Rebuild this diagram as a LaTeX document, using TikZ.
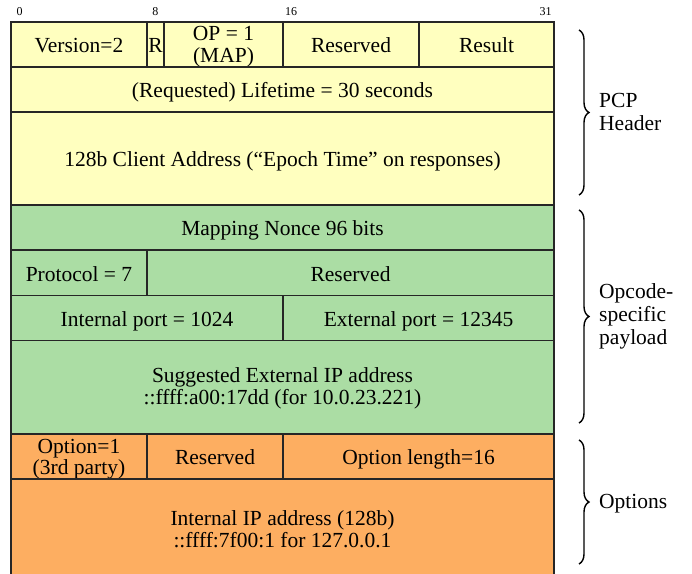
\documentclass[tikz,border=0pt]{standalone}
\usepackage{fontspec}
\setmainfont{Liberation Serif}
\usetikzlibrary{decorations.pathreplacing}
\definecolor{hdr}{HTML}{FFFFBF}
\definecolor{pay}{HTML}{ABDDA4}
\definecolor{opt}{HTML}{FDAE61}
\begin{document}
\begin{tikzpicture}[x=1pt,y=-1pt,
  mcell/.style={draw=black!85, line width=1.1pt, rectangle, inner sep=0pt, outer sep=0pt,
    anchor=north west, align=center, font=\fontsize{21.5}{22}\selectfont},
  cell/.style={mcell, text height=18pt, text depth=1.4pt},
  hcell/.style={cell, fill=hdr},
  pcell/.style={cell, fill=pay},
  ocell/.style={cell, fill=opt},
  hmcell/.style={mcell, fill=hdr},
  pmcell/.style={mcell, fill=pay},
  omcell/.style={mcell, fill=opt},
  mtxt/.style={inner sep=0pt, align=center, font=\fontsize{21.5}{22}\selectfont},
  bitnum/.style={anchor=base, inner sep=0pt, font=\fontsize{12}{13}\selectfont},
  brc/.style={decorate, decoration={brace, amplitude=10pt}, line width=1.4pt},
  lbl/.style={anchor=west, align=left, inner sep=0pt, font=\fontsize{21.5}{22.5}\selectfont}]
\useasboundingbox (0,0) rectangle (692,573);
% bit numbers
\node[bitnum] (b0) at (19.5,15) {0};
\node[bitnum] (b8) at (155.3,15) {8};
\node[bitnum] (b16) at (291,15) {16};
\node[bitnum] (b31) at (545.5,15) {31};
% header
\node[hcell, minimum width=136pt, minimum height=45pt] (ver) at (11,22) {Version=2};
\node[hcell, minimum width=17pt, minimum height=45pt] (r) at (147,22) {R};
\node[hmcell, minimum width=119pt, minimum height=45pt] (op) at (164,22) {};
\node[mtxt, yshift=-2pt] (optxt) at (op.center) {OP = 1\\(MAP)};
\node[hcell, minimum width=136pt, minimum height=45pt] (res1) at (283,22) {Reserved};
\node[hcell, minimum width=135pt, minimum height=45pt] (result) at (419,22) {Result};
\node[hcell, minimum width=543pt, minimum height=45pt] (life) at (11,67) {(Requested) Lifetime = 30 seconds};
\node[hcell, minimum width=543pt, minimum height=93pt] (client) at (11,112) {128b Client Address (“Epoch Time” on responses)};
% payload
\node[pcell, minimum width=543pt, minimum height=45pt] (nonce) at (11,205) {Mapping Nonce 96 bits};
\node[pcell, minimum width=136pt, minimum height=45.5pt] (proto) at (11,250) {Protocol = 7};
\node[pcell, minimum width=407pt, minimum height=45.5pt] (res2) at (147,250) {Reserved};
\node[pcell, minimum width=272pt, minimum height=45pt] (intport) at (11,295.5) {Internal port = 1024};
\node[pcell, minimum width=271pt, minimum height=45pt] (extport) at (283,295.5) {External port = 12345};
\node[pmcell, minimum width=543pt, minimum height=93.5pt] (sugg) at (11,340.5) {};
\node[mtxt, yshift=-1pt] (suggtxt) at (sugg.center) {Suggested External IP address\\::ffff:a00:17dd (for 10.0.23.221)};
% options
\node[omcell, minimum width=136pt, minimum height=45pt] (optn) at (11,434) {};
\node[mtxt, yshift=-3pt, font=\fontsize{21.5}{21}\selectfont] (optntxt) at (optn.center) {Option=1\\(3rd party)};
\node[ocell, minimum width=136pt, minimum height=45pt] (res3) at (147,434) {Reserved};
\node[ocell, minimum width=271pt, minimum height=45pt] (optlen) at (283,434) {Option length=16};
\node[omcell, minimum width=543pt, minimum height=100pt] (intip) at (11,479) {};
\node[mtxt] (intiptxt) at (intip.center) {Internal IP address (128b)\\::ffff:7f00:1 for 127.0.0.1};
% braces
\coordinate (h1) at (579,30); \coordinate (h2) at (579,195);
\coordinate (p1) at (579,210); \coordinate (p2) at (579,423);
\coordinate (o1) at (579,440); \coordinate (o2) at (579,564);
\draw[brc] (h1) -- (h2);
\draw[brc] (p1) -- (p2);
\draw[brc] (o1) -- (o2);
\node[lbl] (lh) at (599,112) {PCP\\Header};
\node[lbl, font=\fontsize{21.5}{23}\selectfont] (lp) at (599,316) {Opcode-\\specific\\payload};
\node[lbl] (lo) at (599,504) {Options};
\end{tikzpicture}
\end{document}
